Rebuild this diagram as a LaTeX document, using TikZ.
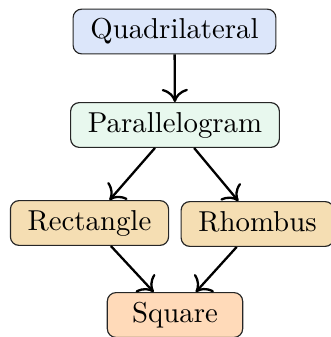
\documentclass[tikz,border=0pt]{standalone}
\usepackage{tikz}
\usetikzlibrary{arrows.meta}
\definecolor{qdblue}{RGB}{220,230,250}
\definecolor{pgreen}{RGB}{232,248,238}
\definecolor{rwheat}{RGB}{245,222,179}
\definecolor{sqpeach}{RGB}{255,218,185}

\begin{document}
\begin{tikzpicture}[
  x=0.3472pt,y=-0.3472pt,
  shape box/.style={draw=black!85,rounded corners=3pt,inner xsep=6pt,
               minimum height=15.2pt,text height=6.94pt,text depth=1.94pt},
  arr/.style={-{To[length=1.6mm,width=3.2mm]},thick}
]
  \useasboundingbox (0,0) rectangle (330,337);
  \node[shape box,fill=qdblue] (quad) at (174.5,31.5) {Quadrilateral};
  \node[shape box,fill=pgreen] (para) at (175,125) {Parallelogram};
  \node[shape box,fill=rwheat] (rect) at (89.5,223) {Rectangle};
  \node[shape box,fill=rwheat] (rhom) at (257.5,224) {Rhombus};
  \node[shape box,fill=sqpeach,minimum width=47pt] (sq) at (175,315) {Square};
  \draw[arr] (quad) -- (para);
  \draw[arr] (para) -- (rect);
  \draw[arr] (para) -- (rhom);
  \draw[arr] (rect) -- (sq);
  \draw[arr] (rhom) -- (sq);
\end{tikzpicture}
\end{document}
